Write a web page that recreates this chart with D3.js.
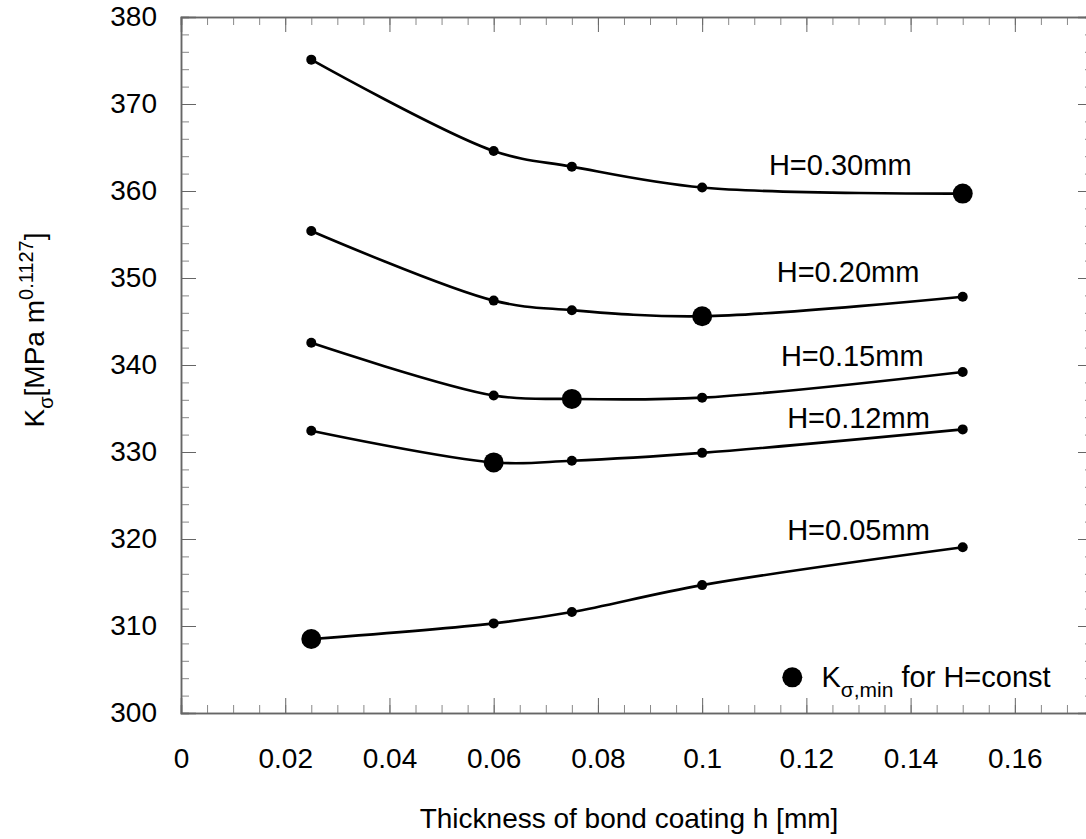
<!DOCTYPE html>
<html>
<head>
<meta charset="utf-8">
<script src="https://cdn.jsdelivr.net/npm/d3@7"></script>
<style>
  body { margin: 0; background: #fff; }
  text { font-family: "Liberation Sans", Arial, sans-serif; fill: #000; }
  .axis path, .axis line { stroke: #666; }
  .minor line { stroke: #888; }
</style>
</head>
<body>
<div class="chart"></div>
<script>
// data
var thickness = [0.025, 0.06, 0.075, 0.1, 0.15];
var seriesNames = ["H=0.30mm", "H=0.20mm", "H=0.15mm", "H=0.12mm", "H=0.05mm"];
var k030 = [375.1, 364.6, 362.8, 360.4, 359.7];
var k020 = [355.4, 347.4, 346.3, 345.6, 347.85];
var k015 = [342.55, 336.5, 336.1, 336.25, 339.2];
var k012 = [332.45, 328.8, 329.0, 329.9, 332.6];
var k005 = [308.5, 310.3, 311.6, 314.7, 319.05];
var xTicks = [0, 0.02, 0.04, 0.06, 0.08, 0.1, 0.12, 0.14, 0.16];
var yTicks = [300, 310, 320, 330, 340, 350, 360, 370, 380];

var svgWidth = 1086;
var svgHeight = 839;
var margin = { top: 17, right: 0, bottom: 126, left: 181 };
var width = 912;
var height = svgHeight - margin.top - margin.bottom;

var svg = d3.select(".chart")
  .append("svg")
  .attr("width", svgWidth)
  .attr("height", svgHeight);

var chartGroup = svg.append("g")
  .attr("transform", `translate(${margin.left}, ${margin.top})`);

var xScale = d3.scaleLinear().domain([0, 0.175]).range([0, width]);
var yScale = d3.scaleLinear().domain([300, 380]).range([height, 0]);

var xMinor = d3.range(0, 0.1751, 0.005);
var yMinor = d3.range(300, 380.1, 2);
var fmt = d => String(+d.toFixed(2));

// minor ticks (inward)
chartGroup.append("g").attr("class", "axis minor")
  .attr("transform", `translate(0, ${height})`)
  .call(d3.axisBottom(xScale).tickValues(xMinor).tickSize(-8).tickFormat(""));
chartGroup.append("g").attr("class", "axis minor")
  .call(d3.axisTop(xScale).tickValues(xMinor).tickSize(-8).tickFormat(""));
chartGroup.append("g").attr("class", "axis minor")
  .call(d3.axisLeft(yScale).tickValues(yMinor).tickSize(-8).tickFormat(""));
chartGroup.append("g").attr("class", "axis minor")
  .attr("transform", `translate(${width}, 0)`)
  .call(d3.axisRight(yScale).tickValues(yMinor).tickSize(-8).tickFormat(""));

// major ticks
var bottomAxis = chartGroup.append("g").attr("class", "axis")
  .attr("transform", `translate(0, ${height})`)
  .call(d3.axisBottom(xScale).tickValues(xTicks).tickSize(-15).tickPadding(35).tickFormat(fmt));
chartGroup.append("g").attr("class", "axis")
  .call(d3.axisTop(xScale).tickValues(xTicks).tickSize(-15).tickFormat(""));
var leftAxis = chartGroup.append("g").attr("class", "axis")
  .call(d3.axisLeft(yScale).tickValues(yTicks).tickSize(-15).tickPadding(24).tickFormat(d3.format("d")));
chartGroup.append("g").attr("class", "axis")
  .attr("transform", `translate(${width}, 0)`)
  .call(d3.axisRight(yScale).tickValues(yTicks).tickSize(-15).tickFormat(""));

chartGroup.selectAll(".axis .domain").attr("stroke-width", 1.5);
bottomAxis.selectAll("text").style("font-size", "28px").attr("fill", "#000");
leftAxis.selectAll("text").style("font-size", "28px").attr("fill", "#000");

// series
var allSeries = [k030, k020, k015, k012, k005];
var line = d3.line()
  .x((d, i) => xScale(thickness[i]))
  .y(d => yScale(d))
  .curve(d3.curveCatmullRom.alpha(0.5));

allSeries.forEach(function(vals) {
  chartGroup.append("path")
    .attr("d", line(vals))
    .attr("fill", "none")
    .attr("stroke", "#000")
    .attr("stroke-width", 2.6);

  var minIdx = d3.minIndex(vals);
  chartGroup.selectAll(null)
    .data(vals)
    .enter()
    .append("circle")
    .attr("cx", (d, i) => xScale(thickness[i]))
    .attr("cy", d => yScale(d))
    .attr("r", (d, i) => i === minIdx ? 10 : 5)
    .attr("fill", "#000");
});

// curve labels
var labelAt = [[0.1265, 363.0], [0.128, 350.7], [0.1288, 341.0], [0.130, 333.9], [0.130, 321.0]];
seriesNames.forEach(function(name, i) {
  chartGroup.append("text")
    .attr("x", xScale(labelAt[i][0]))
    .attr("y", yScale(labelAt[i][1]))
    .attr("text-anchor", "middle")
    .attr("dominant-baseline", "central")
    .style("font-size", "29px")
    .text(name);
});

// legend
chartGroup.append("circle")
  .attr("cx", xScale(0.1173))
  .attr("cy", yScale(304.1))
  .attr("r", 10)
  .attr("fill", "#000");
var legendText = chartGroup.append("text")
  .attr("x", xScale(0.1229))
  .attr("y", yScale(304.1) + 10)
  .style("font-size", "29px");
legendText.append("tspan").text("K");
legendText.append("tspan").attr("dy", 10).style("font-size", "21px").text("σ,min");
legendText.append("tspan").attr("dy", -10).text(" for H=const");

// axis titles
svg.append("text")
  .attr("x", 629)
  .attr("y", 828)
  .attr("text-anchor", "middle")
  .style("font-size", "28px")
  .text("Thickness of bond coating h [mm]");

var yTitle = svg.append("text")
  .attr("transform", "translate(44, 330) rotate(-90)")
  .attr("text-anchor", "middle")
  .style("font-size", "28px");
yTitle.append("tspan").text("K");
yTitle.append("tspan").attr("dy", 9).style("font-size", "20px").text("σ");
yTitle.append("tspan").attr("dy", -9).text("[MPa m");
yTitle.append("tspan").attr("dy", -11).style("font-size", "20px").text("0.1127");
yTitle.append("tspan").attr("dy", 11).text("]");
</script>
</body>
</html>
